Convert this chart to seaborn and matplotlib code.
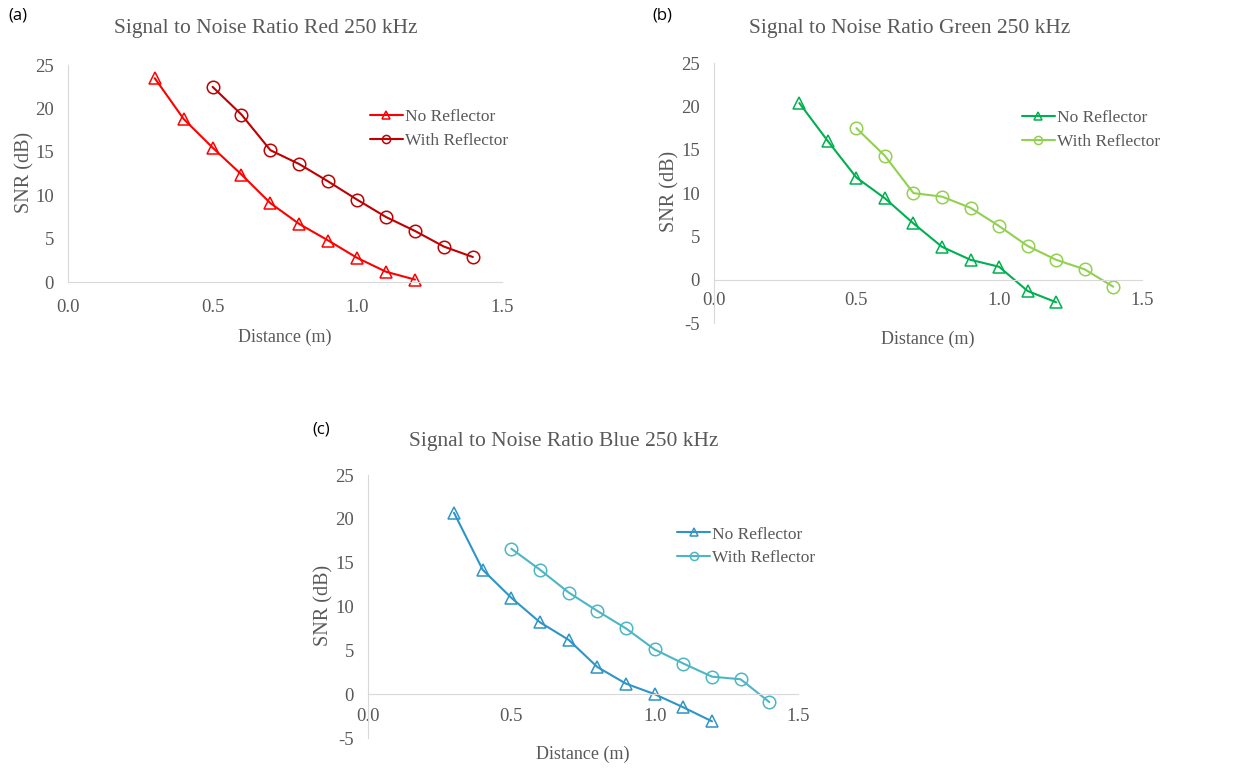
import pandas as pd
import matplotlib.pyplot as plt
import seaborn as sns

sns.set_style("white")
plt.rcParams['font.family'] = ['Liberation Serif', 'DejaVu Serif']
plt.rcParams['axes.unicode_minus'] = False

# distances (m)
dist_no = [0.3, 0.4, 0.5, 0.6, 0.7, 0.8, 0.9, 1.0, 1.1, 1.2]
dist_with = [0.5, 0.6, 0.7, 0.8, 0.9, 1.0, 1.1, 1.2, 1.3, 1.4]

# SNR (dB)
red_no = [23.5, 18.8, 15.5, 12.4, 9.1, 6.7, 4.8, 2.8, 1.2, 0.3]
red_with = [22.5, 19.3, 15.2, 13.6, 11.6, 9.5, 7.5, 5.9, 4.1, 2.9]
green_no = [20.4, 16.0, 11.8, 9.4, 6.5, 3.8, 2.3, 1.5, -1.3, -2.6]
green_with = [17.5, 14.3, 10.0, 9.6, 8.3, 6.2, 3.9, 2.3, 1.2, -0.8]
blue_no = [20.7, 14.2, 11.0, 8.2, 6.2, 3.1, 1.2, 0.0, -1.5, -3.1]
blue_with = [16.6, 14.2, 11.6, 9.5, 7.5, 5.1, 3.5, 2.0, 1.7, -0.9]

x_ticks = [0.0, 0.5, 1.0, 1.5]
gray = "#595959"
axis_gray = "#D9D9D9"

panels = [
    dict(letter="(a)", title="Signal to Noise Ratio Red 250 kHz",
         no=red_no, wi=red_with, c_no="#FF0000", c_wi="#C00000",
         rect=[0.0544, 0.634, 0.347, 0.2815], ylim=(0, 25),
         lpos=(8 / 1250, 1 - 16 / 771), tpos=(266 / 1250, 1 - 29 / 771),
         leg=(0.696, 0.797), xpad=12, xlab=-0.215, ylab=-0.078),
    dict(letter="(b)", title="Signal to Noise Ratio Green 250 kHz",
         no=green_no, wi=green_with, c_no="#00B050", c_wi="#92D050",
         rect=[0.571, 0.581, 0.3424, 0.337], ylim=(-5, 25),
         lpos=(652 / 1250, 1 - 16 / 771), tpos=(910 / 1250, 1 - 29 / 771),
         leg=(0.72, 0.82), xpad=9, xlab=-0.03, ylab=-0.079),
    dict(letter="(c)", title="Signal to Noise Ratio Blue 250 kHz",
         no=blue_no, wi=blue_with, c_no="#2E95C4", c_wi="#4DB6C4",
         rect=[0.2944, 0.0428, 0.344, 0.341], ylim=(-5, 25),
         lpos=(312 / 1250, 1 - 430 / 771), tpos=(564 / 1250, 1 - 442 / 771),
         leg=(0.719, 0.805), xpad=10, xlab=-0.03, ylab=-0.081),
]

fig = plt.figure(figsize=(12.5, 7.71), dpi=100)

for p in panels:
    ax = fig.add_axes(p["rect"])
    df_no = pd.DataFrame({"Distance": dist_no, "SNR": p["no"]})
    df_wi = pd.DataFrame({"Distance": dist_with, "SNR": p["wi"]})

    sns.lineplot(data=df_no, x="Distance", y="SNR", ax=ax, color=p["c_no"],
                 linewidth=1.5, marker="^", markersize=9, markerfacecolor="none",
                 markeredgecolor=p["c_no"], markeredgewidth=1.1,
                 label="No Reflector", clip_on=False)
    sns.lineplot(data=df_wi, x="Distance", y="SNR", ax=ax, color=p["c_wi"],
                 linewidth=1.5, marker="o", markersize=9, markerfacecolor="none",
                 markeredgecolor=p["c_wi"], markeredgewidth=1.1,
                 label="With Reflector", clip_on=False)

    ax.set_xlim(0, 1.5)
    ax.set_ylim(*p["ylim"])
    ax.set_xticks(x_ticks)
    ax.set_xticklabels([f"{t:.1f}" for t in x_ticks])
    ax.set_yticks(range(p["ylim"][0], 26, 5))

    for s in ["top", "right"]:
        ax.spines[s].set_visible(False)
    ax.spines["bottom"].set_position(("data", 0))
    ax.spines["bottom"].set_color(axis_gray)
    ax.spines["left"].set_color(axis_gray)
    ax.tick_params(axis="both", length=0, labelsize=13.5, labelcolor=gray)
    ax.tick_params(axis="x", pad=p["xpad"])
    ax.tick_params(axis="y", pad=10)

    ax.set_xlabel("Distance (m)", fontsize=13, color=gray)
    ax.set_ylabel("SNR (dB)", fontsize=14.5, color=gray)
    ax.xaxis.set_label_coords(0.5, p["xlab"])
    ax.yaxis.set_label_coords(p["ylab"], 0.505)

    leg = ax.legend(loc="upper left", bbox_to_anchor=p["leg"], frameon=False,
                    fontsize=12.5, handlelength=1.9, handletextpad=0.1,
                    labelspacing=0.45, borderpad=0, borderaxespad=0, markerscale=0.65)
    for t in leg.get_texts():
        t.set_color(gray)

    fig.text(p["tpos"][0], p["tpos"][1], p["title"], ha="center", va="center",
             fontsize=15.5, color=gray)
    fig.text(p["lpos"][0], p["lpos"][1], p["letter"], ha="left", va="center",
             fontsize=12, color="black", family=["Open Sans", "DejaVu Sans"])

fig.savefig("out.png", dpi=100)
